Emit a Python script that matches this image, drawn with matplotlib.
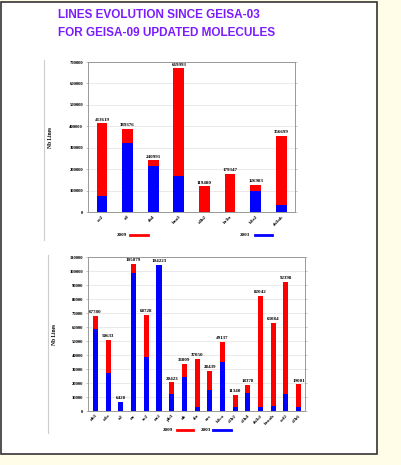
import matplotlib
matplotlib.use("Agg")
import matplotlib.pyplot as plt
from matplotlib.patches import Rectangle
from matplotlib.lines import Line2D

# upper panel: big molecules
mol_a = ["co2", "o3", "ch4", "hno3", "c4h2", "hc3n", "h2o2", "ch3oh"]
tot_a = [413619, 389376, 240991, 669993, 119480, 179347, 126983, 356699]
old_a = [75000, 320000, 215000, 170000, 0, 0, 98000, 33000]

# lower panel: smaller molecules
mol_b = ["nh3", "n2o", "o2", "no", "so2", "no2", "ph3", "oh", "clo",
         "ocs", "h2co", "c2h2", "c2h4", "ch3cl", "hcooh", "cof2", "c2h6"]
tot_b = [67780, 50633, 6428, 105079, 68728, 104223, 20423, 33809, 37050,
         28439, 49137, 11340, 18378, 82042, 63084, 92398, 19001]
old_b = [58300, 26900, 6428, 98800, 38800, 104223, 12100, 24500, 2600,
         15000, 35200, 3100, 12600, 2600, 3600, 11900, 3100]

W, H = 401, 465
RED = "#ff0000"
BLUE = "#0000ff"
serif = ["Liberation Serif", "DejaVu Serif"]

fig = plt.figure(figsize=(W / 100, H / 100), dpi=100)
fig.patch.set_facecolor("#fffde8")


def px(x0, y0, x1, y1):
    return [x0 / W, 1 - y1 / H, (x1 - x0) / W, (y1 - y0) / H]


# white panel with dark border
fig.patches.append(Rectangle((1 / W, 1 - 454 / H), 376 / W, 452 / H,
                             transform=fig.transFigure, facecolor="white",
                             edgecolor="#333333", lw=1.2, zorder=-5))

fig.text(58 / W, 1 - 15 / H, "LINES EVOLUTION SINCE GEISA-03", color="#7b1cff",
         fontsize=8.5, fontweight="bold", family="Liberation Sans", va="center")
fig.text(58 / W, 1 - 33 / H, "FOR GEISA-09 UPDATED MOLECULES", color="#7b1cff",
         fontsize=8.5, fontweight="bold", family="Liberation Sans", va="center")

# faint edges of the two embedded plots
fig.add_artist(Line2D([44 / W, 44 / W], [1 - 60 / H, 1 - 240 / H], color="#cccccc", lw=0.8))
fig.add_artist(Line2D([48 / W, 48 / W], [1 - 255 / H, 1 - 433 / H], color="#cccccc", lw=0.8))


def panel(rect, mols, tot, old, ymax, step, xlim, width, ylab_x, leg):
    ax = fig.add_axes(rect, zorder=2)
    ax.set_facecolor("white")
    x = list(range(len(mols)))
    ax.bar(x, tot, width=width, color=RED, zorder=2)
    ax.bar(x, old, width=width, color=BLUE, zorder=3)
    for xi, v in zip(x, tot):
        ax.text(xi, v + ymax * 0.012, str(v), ha="center", va="bottom",
                fontsize=3.6, family=serif, fontweight="bold", zorder=4)
    ax.set_xlim(*xlim)
    ax.set_ylim(0, ymax)
    ax.set_yticks(range(0, ymax + 1, step))
    ax.set_xticks(x)
    ax.set_xticklabels(mols, rotation=45, ha="right", rotation_mode="anchor",
                       fontsize=3.6, family=serif, fontweight="bold")
    ax.tick_params(axis="y", labelsize=3.4, length=1.5, width=0.4, pad=2,
                   right=True, color="#999999")
    ax.tick_params(axis="x", length=0, pad=2)
    for lbl in ax.get_yticklabels():
        lbl.set_family(serif)
        lbl.set_fontweight("bold")
    ax.yaxis.grid(True, color="#e2e2e2", lw=0.5, zorder=0)
    ax.set_axisbelow(True)
    for s in ax.spines.values():
        s.set_color("#999999")
        s.set_linewidth(0.7)
    fig.text(ylab_x / W, (rect[1] + rect[3] / 2), "Nb Lines", rotation=90,
             fontsize=4, family=serif, fontweight="bold", ha="center", va="center")
    # legend entries drawn as text plus colored strokes
    for label, color, tx, lx0, lx1, ly in leg:
        fig.text(tx / W, 1 - ly / H, label, fontsize=3.6, family=serif,
                 fontweight="bold", ha="right", va="center")
        fig.add_artist(Line2D([lx0 / W, lx1 / W], [1 - ly / H, 1 - ly / H],
                              color=color, lw=2))
    return ax


panel(px(88, 62, 295, 212), mol_a, tot_a, old_a, 700000, 100000,
      (-0.55, 7.54), 0.42, 50,
      [("2009", RED, 127, 130, 148, 235), ("2003", BLUE, 250, 255, 272, 235)])

panel(px(88, 257, 305, 411), mol_b, tot_b, old_b, 110000, 10000,
      (-0.59, 16.5), 0.4, 54,
      [("2009", RED, 173, 177, 193, 430), ("2003", BLUE, 211, 213, 231, 430)])

fig.savefig("out.png", dpi=100, facecolor=fig.get_facecolor())
